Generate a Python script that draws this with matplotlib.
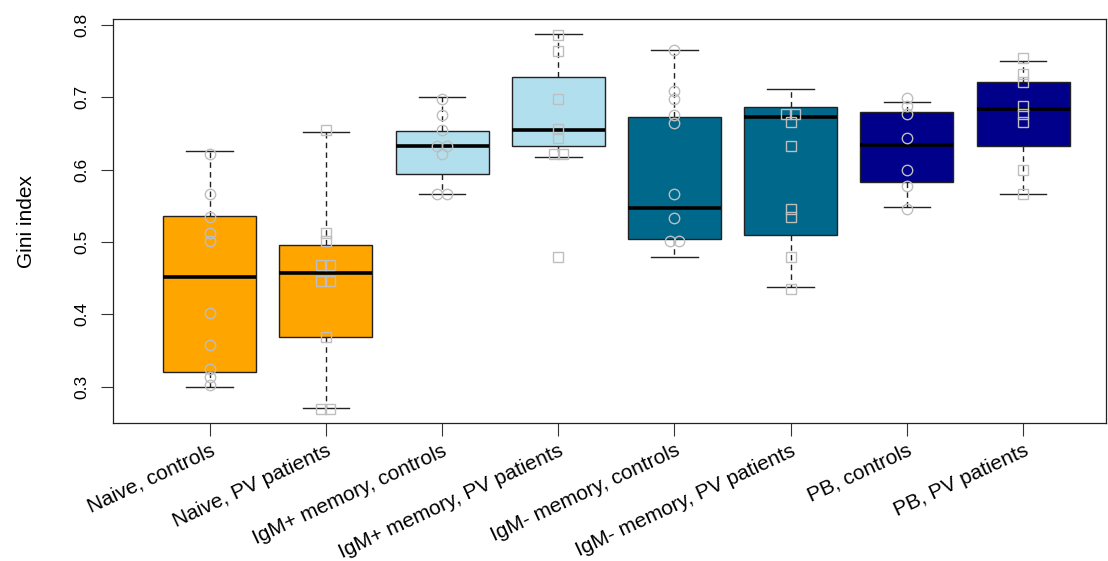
import numpy as np
import matplotlib.pyplot as plt

plt.rcParams['font.family'] = ['Liberation Sans', 'DejaVu Sans']

groups = ["Naive, controls", "Naive, PV patients",
          "IgM+ memory, controls", "IgM+ memory, PV patients",
          "IgM- memory, controls", "IgM- memory, PV patients",
          "PB, controls", "PB, PV patients"]
colors = ["#FFA500", "#FFA500", "#B2DFEE", "#B2DFEE",
          "#00688B", "#00688B", "#00008B", "#00008B"]

# box summaries: lower whisker, lower hinge, median, upper hinge, upper whisker
whislo = [0.300, 0.271, 0.566, 0.617, 0.479, 0.438, 0.549, 0.567]
q1 = [0.321, 0.369, 0.594, 0.632, 0.504, 0.510, 0.583, 0.632]
med = [0.451, 0.457, 0.633, 0.655, 0.547, 0.673, 0.634, 0.684]
q3 = [0.536, 0.496, 0.654, 0.728, 0.673, 0.687, 0.680, 0.721]
whishi = [0.626, 0.652, 0.701, 0.788, 0.765, 0.712, 0.693, 0.750]

# individual Gini values per group
points = [
    [0.621, 0.567, 0.534, 0.512, 0.501, 0.402, 0.358, 0.325, 0.314, 0.303],
    [0.655, 0.512, 0.501, 0.468, 0.468, 0.446, 0.446, 0.369, 0.270, 0.270],
    [0.698, 0.676, 0.655, 0.633, 0.633, 0.621, 0.566, 0.566],
    [0.786, 0.764, 0.698, 0.656, 0.644, 0.621, 0.621, 0.479],
    [0.765, 0.709, 0.698, 0.676, 0.665, 0.567, 0.533, 0.501, 0.501],
    [0.677, 0.677, 0.666, 0.633, 0.545, 0.534, 0.479, 0.435],
    [0.699, 0.688, 0.677, 0.644, 0.599, 0.578, 0.545],
    [0.754, 0.732, 0.721, 0.688, 0.677, 0.666, 0.599, 0.567],
]
markers = ["o", "s", "o", "s", "o", "s", "o", "s"]

fig = plt.figure(figsize=(11.08, 5.61), dpi=100)
ax = fig.add_axes([0.102, 0.246, 0.896, 0.720])

stats = []
for i in range(len(groups)):
    stats.append(dict(whislo=whislo[i], q1=q1[i], med=med[i], q3=q3[i],
                      whishi=whishi[i], fliers=[]))

pos = np.arange(1, len(groups) + 1)
bp = ax.bxp(stats, positions=pos, widths=0.8, capwidths=0.4,
            patch_artist=True, showfliers=False,
            boxprops=dict(edgecolor="#222222", linewidth=1.0),
            medianprops=dict(color="black", linewidth=2.6, solid_capstyle="butt"),
            whiskerprops=dict(color="#222222", linewidth=1.0, linestyle=(0, (4, 3))),
            capprops=dict(color="#222222", linewidth=1.0))
for patch, c in zip(bp["boxes"], colors):
    patch.set_facecolor(c)

# stack tied values side by side
for i, vals in enumerate(points):
    vals = np.array(vals)
    xs = np.full(len(vals), float(pos[i]))
    for v in np.unique(vals):
        idx = np.where(vals == v)[0]
        k = len(idx)
        xs[idx] += (np.arange(k) - (k - 1) / 2) * 0.08
    size = 7.5 if markers[i] == "o" else 6.5
    ax.plot(xs, vals, linestyle="none", marker=markers[i], markersize=size,
            markerfacecolor="none", markeredgecolor="#BEBEBE",
            markeredgewidth=1.0, zorder=5)

ax.set_xlim(0.17, 8.71)
ax.set_ylim(0.250, 0.808)
ax.set_yticks([0.3, 0.4, 0.5, 0.6, 0.7, 0.8])
ax.set_yticklabels(["0.3", "0.4", "0.5", "0.6", "0.7", "0.8"],
                   rotation=90, va="center", fontsize=12.5)
ax.set_xticks(pos)
ax.set_xticklabels(groups, rotation=25, ha="right", rotation_mode="anchor",
                   fontsize=15)
ax.tick_params(axis="both", length=9, width=0.8, color="#333333")
ax.tick_params(axis="x", pad=4)
ax.tick_params(axis="y", pad=8)
ax.set_ylabel("Gini index", fontsize=15, labelpad=28)
for s in ax.spines.values():
    s.set_linewidth(0.9)
    s.set_color("#222222")

fig.savefig("out.png", dpi=100)
